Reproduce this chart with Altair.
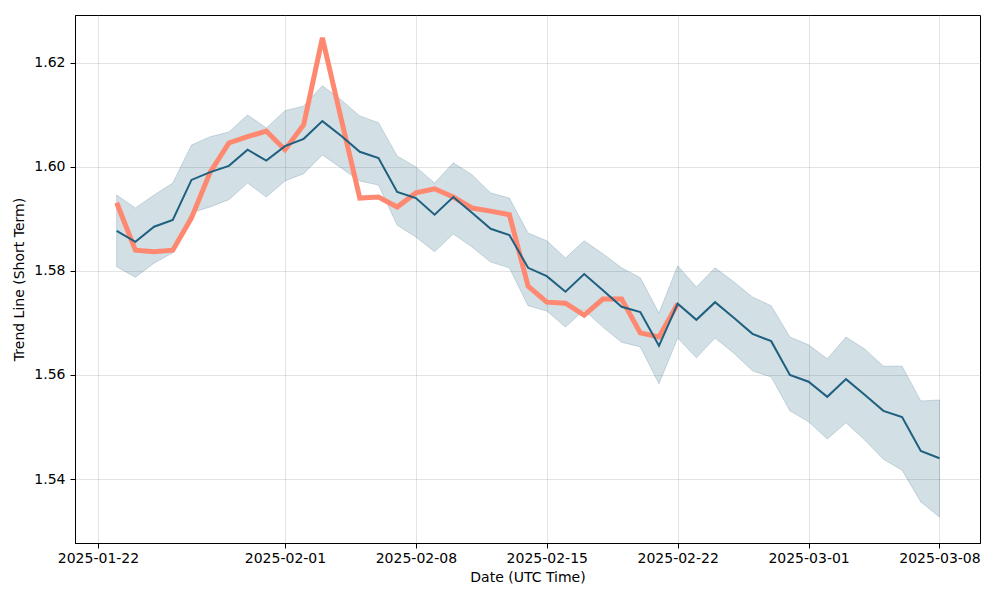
import altair as alt
import pandas as pd

dates = pd.date_range("2025-01-23", "2025-03-08", freq="D").strftime("%Y-%m-%d").tolist()

trend = [1.5877, 1.5856, 1.5885, 1.5898, 1.5975, 1.5990, 1.6002, 1.6033, 1.6012,
         1.6040, 1.6054, 1.6088, 1.6060, 1.6029, 1.6017, 1.5952, 1.5940, 1.5908,
         1.5942, 1.5912, 1.5881, 1.5869, 1.5806, 1.5790, 1.5760, 1.5794, 1.5763,
         1.5731, 1.5721, 1.5656, 1.5737, 1.5706, 1.5740, 1.5710, 1.5679, 1.5665,
         1.5600, 1.5587, 1.5558, 1.5592, 1.5562, 1.5531, 1.5519, 1.5454, 1.5440]

upper = [1.5946, 1.5921, 1.5946, 1.5969, 1.6042, 1.6058, 1.6067, 1.6100, 1.6075,
         1.6108, 1.6117, 1.6156, 1.6129, 1.6098, 1.6085, 1.6021, 1.6000, 1.5969,
         1.6008, 1.5985, 1.5950, 1.5940, 1.5873, 1.5858, 1.5825, 1.5858, 1.5833,
         1.5806, 1.5787, 1.5719, 1.5810, 1.5769, 1.5806, 1.5779, 1.5750, 1.5733,
         1.5673, 1.5658, 1.5631, 1.5673, 1.5650, 1.5617, 1.5617, 1.5550, 1.5552]

lower = [1.5808, 1.5788, 1.5815, 1.5835, 1.5912, 1.5923, 1.5937, 1.5969, 1.5942,
         1.5973, 1.5987, 1.6023, 1.5998, 1.5973, 1.5965, 1.5888, 1.5865, 1.5837,
         1.5871, 1.5846, 1.5817, 1.5806, 1.5733, 1.5723, 1.5692, 1.5725, 1.5692,
         1.5663, 1.5654, 1.5583, 1.5671, 1.5633, 1.5671, 1.5642, 1.5608, 1.5596,
         1.5531, 1.5510, 1.5477, 1.5508, 1.5475, 1.5438, 1.5417, 1.5356, 1.5327]

price_dates = dates[:31]
price = [1.5931, 1.5840, 1.5837, 1.5840, 1.5902, 1.5990, 1.6046, 1.6058, 1.6069,
         1.6033, 1.6081, 1.6248, 1.6093, 1.5940, 1.5942, 1.5923, 1.5950, 1.5958,
         1.5942, 1.5921, 1.5915, 1.5908, 1.5771, 1.5740, 1.5738, 1.5715, 1.5746,
         1.5746, 1.5681, 1.5673, 1.5737]

tick_dates = [(2025, 1, 22), (2025, 2, 1), (2025, 2, 8), (2025, 2, 15),
              (2025, 2, 22), (2025, 3, 1), (2025, 3, 8)]

df = pd.DataFrame({"date": dates, "trend": trend, "upper": upper, "lower": lower})
dfp = pd.DataFrame({"date": price_dates, "price": price})

BLUE = "#1f5f7f"
ORANGE = "#ff8870"
FONT = "DejaVu Sans"

xscale = alt.Scale(
    type="utc",
    domain=[alt.DateTime(year=2025, month=1, date=20, hours=18, minutes=30, utc=True),
            alt.DateTime(year=2025, month=3, date=10, hours=4, utc=True)],
    nice=False,
)
yscale = alt.Scale(domain=[1.5277, 1.6292], nice=False, zero=False)

xaxis = alt.Axis(
    title="Date (UTC Time)",
    values=[alt.DateTime(year=y, month=m, date=d, utc=True) for (y, m, d) in tick_dates],
    format="%Y-%m-%d",
    labelFlush=False,
    labelPadding=3,
    titlePadding=5,
)
yaxis = alt.Axis(
    title="Trend Line (Short Term)",
    values=[1.54, 1.56, 1.58, 1.60, 1.62],
    format=".2f",
    labelPadding=5,
    titlePadding=7,
)

x = alt.X("date:T", scale=xscale, axis=xaxis)

band = alt.Chart(df).mark_area(
    color=BLUE, fillOpacity=0.2, stroke=BLUE, strokeOpacity=0.2, strokeWidth=1
).encode(x=x, y=alt.Y("lower:Q", scale=yscale, axis=yaxis), y2="upper:Q")

price_line = alt.Chart(dfp).mark_line(color=ORANGE, strokeWidth=5, strokeJoin="miter").encode(
    x=x, y=alt.Y("price:Q", scale=yscale)
)

trend_line = alt.Chart(df).mark_line(color=BLUE, strokeWidth=2).encode(
    x=x, y=alt.Y("trend:Q", scale=yscale)
)

chart = alt.layer(band, price_line, trend_line).properties(
    width=905,
    height=528,
    autosize=alt.AutoSizeParams(type="none"),
    padding={"left": 67, "top": 7, "right": 12, "bottom": 45},
).configure_view(
    stroke="black", strokeWidth=1
).configure_axis(
    labelFont=FONT, titleFont=FONT, labelFontSize=14, titleFontSize=14,
    labelColor="black", titleColor="black", titleFontWeight="normal",
    domainColor="black", tickColor="black", tickSize=5,
    gridColor="#b0b0b0", gridOpacity=0.35, gridWidth=1,
)

chart.save("out.html", embed_options={"renderer": "svg", "actions": False})
